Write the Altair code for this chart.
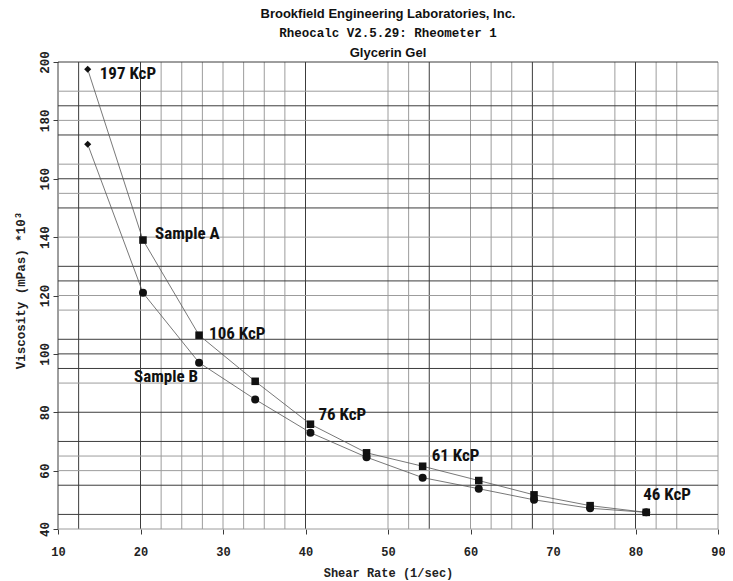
import altair as alt
import pandas as pd

# ---------------- data ----------------
shear_rate = [13.6, 20.3, 27.1, 33.9, 40.6, 47.4, 54.2, 61.0, 67.7, 74.5, 81.3]
sample_a = [197.5, 139.0, 106.4, 90.6, 75.9, 66.1, 61.5, 56.6, 51.7, 48.0, 45.7]
sample_b = [171.8, 120.9, 97.0, 84.4, 73.0, 64.6, 57.6, 53.8, 50.0, 47.1, 45.7]

x_ticks = [10, 20, 30, 40, 50, 60, 70, 80, 90]
y_ticks = [40, 60, 80, 100, 120, 140, 160, 180, 200]

x_grid = [10, 12.5, 20, 22.5, 25, 27.5, 30, 32.5, 35, 37.5, 40, 50, 52.5, 55,
          60, 62.5, 65, 67.5, 70, 77.5, 80, 82.5, 85, 90]
x_grid_dark = [10, 12.5, 20, 40, 55, 67.5, 80]
y_grid = [40, 45, 55, 60, 65, 70, 80, 90, 95, 100, 105, 115, 120, 125, 130,
          140, 150, 155, 160, 165, 175, 180, 185, 190, 200]
y_grid_dark = [200, 185, 175, 160, 150, 130, 125, 105, 100, 95, 80, 70, 55, 45]

ann_text = ["197 KcP", "Sample A", "106 KcP", "Sample B", "76 KcP", "61 KcP", "46 KcP"]
ann_series = ["Sample A", "Sample A", "Sample A", "Sample B", "Sample A", "Sample A", "Sample A"]
ann_index = [0, 1, 2, 2, 4, 6, 10]

title_1 = "Brookfield Engineering Laboratories, Inc."
title_2 = "Rheocalc V2.5.29: Rheometer 1"
title_3 = "Glycerin Gel"
x_title = "Shear Rate (1/sec)"
y_title = "Viscosity (mPas) *10³"

# ---------------- layout / style ----------------
W, H = 660, 467
MONO = "Liberation Mono"
SANS = "Liberation Sans"
COND = "Roboto Condensed, Liberation Sans Narrow, Liberation Sans, sans-serif"
DARK = "#3c3c3c"
LIGHT = "#9c9c9c"

xs = alt.Scale(domain=[10, 90], nice=False, zero=False)
ys = alt.Scale(domain=[40, 200], nice=False, zero=False)

x_axis = alt.Axis(values=x_ticks, grid=False, domain=False, tickSize=5, tickColor=DARK,
                  labelFont=MONO, labelFontSize=12, labelFontWeight="bold", labelColor="#222",
                  labelPadding=12, labelOverlap=False, labelFlush=False, format="d",
                  title=x_title, titleFont=MONO, titleFontSize=12, titleFontWeight="bold",
                  titleColor="#222", titleBaseline="alphabetic", titleY=47)
y_axis = alt.Axis(values=y_ticks, grid=False, domain=False, tickSize=5, tickColor=DARK,
                  labelFont=MONO, labelFontSize=12.5, labelFontWeight="bold", labelColor="#222",
                  labelAngle=270, labelAlign="center", labelBaseline="alphabetic",
                  labelPadding=4.5, labelOverlap=False, labelFlush=False, format="d",
                  title=y_title, titleFont=MONO, titleFontSize=12.5, titleFontWeight="bold",
                  titleColor="#222", titleAngle=270, titleAlign="center",
                  titleBaseline="middle", titleX=-38, titleY=228)


def X(field):
    return alt.X(field, type="quantitative", scale=xs, axis=x_axis)


def Y(field):
    return alt.Y(field, type="quantitative", scale=ys, axis=y_axis)


# grid
xg = pd.DataFrame({"rate": x_grid})
xg["c"] = [DARK if v in x_grid_dark else LIGHT for v in x_grid]
yg = pd.DataFrame({"visc": y_grid})
yg["c"] = [DARK if v in y_grid_dark else LIGHT for v in y_grid]

grid_v = alt.Chart(xg).mark_rule(strokeWidth=1).encode(
    x=X("rate"), color=alt.Color("c:N", scale=None))
grid_h = alt.Chart(yg).mark_rule(strokeWidth=1).encode(
    y=Y("visc"), color=alt.Color("c:N", scale=None))

# series
rows = []
for name, vals, shp in [("Sample A", sample_a, "square"), ("Sample B", sample_b, "circle")]:
    for i, (r, v) in enumerate(zip(shear_rate, vals)):
        rows.append({"series": name, "i": i, "rate": r, "visc": v,
                     "marker": "diamond" if i == 0 else shp})
df = pd.DataFrame(rows)

lines = alt.Chart(df).mark_line(color="#555", strokeWidth=0.8).encode(
    x=X("rate"), y=Y("visc"), detail="series:N", order="i:Q")

points = alt.Chart(df).mark_point(filled=True, color="#111", opacity=1).encode(
    x=X("rate"), y=Y("visc"),
    shape=alt.Shape("marker:N", scale=alt.Scale(domain=["diamond", "square", "circle"],
                                                range=["diamond", "square", "circle"]),
                    legend=None),
    size=alt.Size("marker:N", scale=alt.Scale(domain=["diamond", "square", "circle"],
                                              range=[50, 64, 48]), legend=None))

# annotations (offsets are style only)
offsets = [(12, 4.5, "left"), (12, -6.5, "left"), (10, -1.5, "left"), (-1, 14, "right"),
           (8, -9, "left"), (9, -10, "left"), (-3, -17, "left")]
ann_layers = []
for t, s, idx, (dx, dy, al) in zip(ann_text, ann_series, ann_index, offsets):
    src = df[(df.series == s) & (df.i == idx)][["rate", "visc"]].copy()
    src["t"] = t
    ann_layers.append(
        alt.Chart(src).mark_text(dx=dx, dy=dy, align=al, baseline="middle", font=COND,
                                 fontSize=17, fontWeight="bold", color="#111").encode(
            x=X("rate"), y=Y("visc"), text="t:N"))

# titles
def title_mark(text, font, size, ybase):
    return alt.Chart(pd.DataFrame({"t": [text]})).mark_text(
        font=font, fontSize=size, fontWeight="bold", color="#111", align="center",
        baseline="alphabetic").encode(text="t:N", x=alt.value(W / 2), y=alt.value(ybase))

titles = [title_mark(title_1, SANS, 13, -44),
          title_mark(title_2, MONO, 12.5, -25),
          title_mark(title_3, SANS, 13, -5.5)]

chart = alt.layer(grid_v, grid_h, lines, points, *ann_layers, *titles).properties(
    width=W, height=H,
    autosize=alt.AutoSizeParams(type="none"),
    padding={"left": 50, "top": 54, "right": 7, "bottom": 51},
    background="white",
).configure_view(stroke=None)

chart.save("out.html", embed_options={"renderer": "svg", "actions": False})
